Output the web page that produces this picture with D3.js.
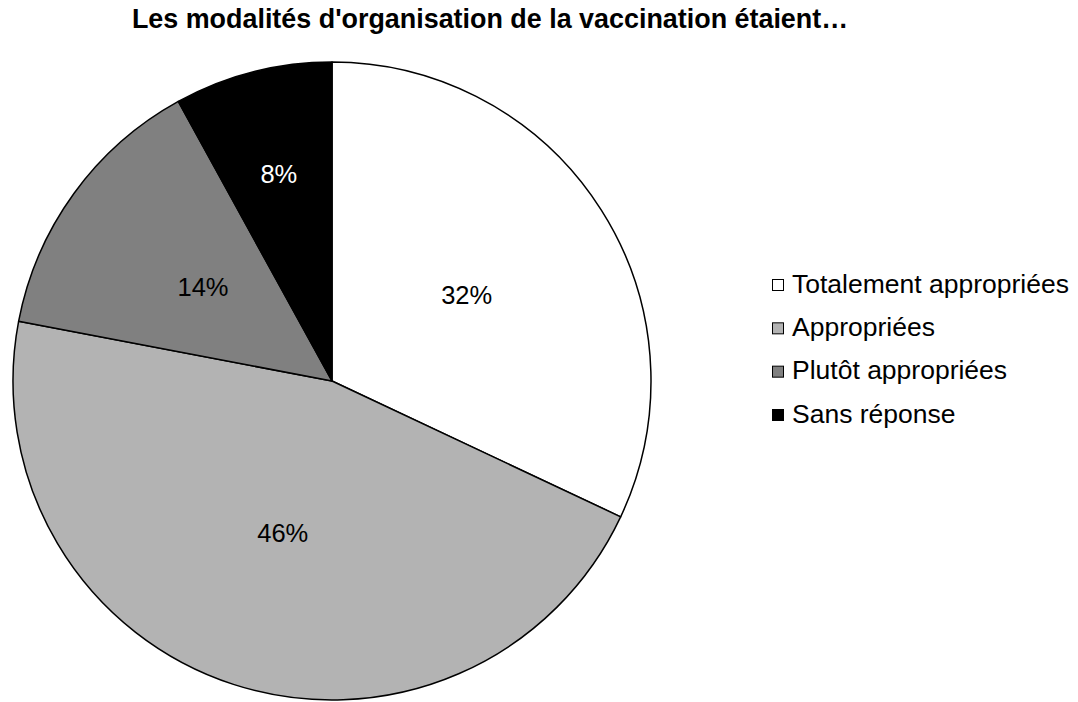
<!DOCTYPE html>
<html>
<head>
<meta charset="utf-8">
<script src="https://cdn.jsdelivr.net/npm/d3@7"></script>
<style>
  html, body { margin: 0; padding: 0; background: #fff; }
  svg { display: block; font-family: "Liberation Sans", Arial, sans-serif; }
</style>
</head>
<body>
<svg id="chart" width="1078" height="702"></svg>
<script>
const title = "Les modalités d'organisation de la vaccination étaient…";
const categories = ["Totalement appropriées", "Appropriées", "Plutôt appropriées", "Sans réponse"];
const values = [32, 46, 14, 8];
const labels = ["32%", "46%", "14%", "8%"];
const colors = ["#ffffff", "#b3b3b3", "#808080", "#000000"];
const labelColors = ["#000000", "#000000", "#000000", "#ffffff"];

const svg = d3.select("#chart");
const cx = 332, cy = 381, R = 319;

svg.append("text")
  .attr("x", 490).attr("y", 28)
  .attr("text-anchor", "middle")
  .attr("font-weight", "bold")
  .attr("font-size", 26.9)
  .attr("fill", "#000")
  .text(title);

const data = categories.map((c, i) => ({ cat: c, value: values[i], label: labels[i], color: colors[i], lc: labelColors[i] }));
const pie = d3.pie().value(d => d.value).sort(null);
const arc = d3.arc().innerRadius(0).outerRadius(R);
const labelArc = d3.arc().innerRadius(R * 0.5).outerRadius(R * 0.5);
const labelArcSmall = d3.arc().innerRadius(R * 0.67).outerRadius(R * 0.67);

const g = svg.append("g").attr("transform", `translate(${cx},${cy})`);
const arcs = pie(data);
g.selectAll("path").data(arcs).join("path")
  .attr("d", arc)
  .attr("fill", d => d.data.color)
  .attr("stroke", "#000")
  .attr("stroke-width", 1.5)
  .attr("stroke-linejoin", "round");

g.selectAll("text").data(arcs).join("text")
  .attr("transform", d => `translate(${(d.data.value < 10 ? labelArcSmall : labelArc).centroid(d)})`)
  .attr("text-anchor", "middle")
  .attr("dy", "0.35em")
  .attr("font-size", 25.5)
  .attr("fill", d => d.data.lc)
  .text(d => d.data.label);

const legend = svg.append("g");
const ly = d3.scalePoint().domain(categories).range([285, 415]);
const items = legend.selectAll("g").data(data).join("g")
  .attr("transform", d => `translate(772,${ly(d.cat)})`);
items.append("rect")
  .attr("x", 0.5).attr("y", -5.5)
  .attr("width", 11).attr("height", 11)
  .attr("fill", d => d.color)
  .attr("stroke", "#000").attr("stroke-width", 1);
items.append("text")
  .attr("x", 20).attr("y", 7.5)
  .attr("font-size", 26.5)
  .attr("fill", "#000")
  .text(d => d.cat);
</script>
</body>
</html>
